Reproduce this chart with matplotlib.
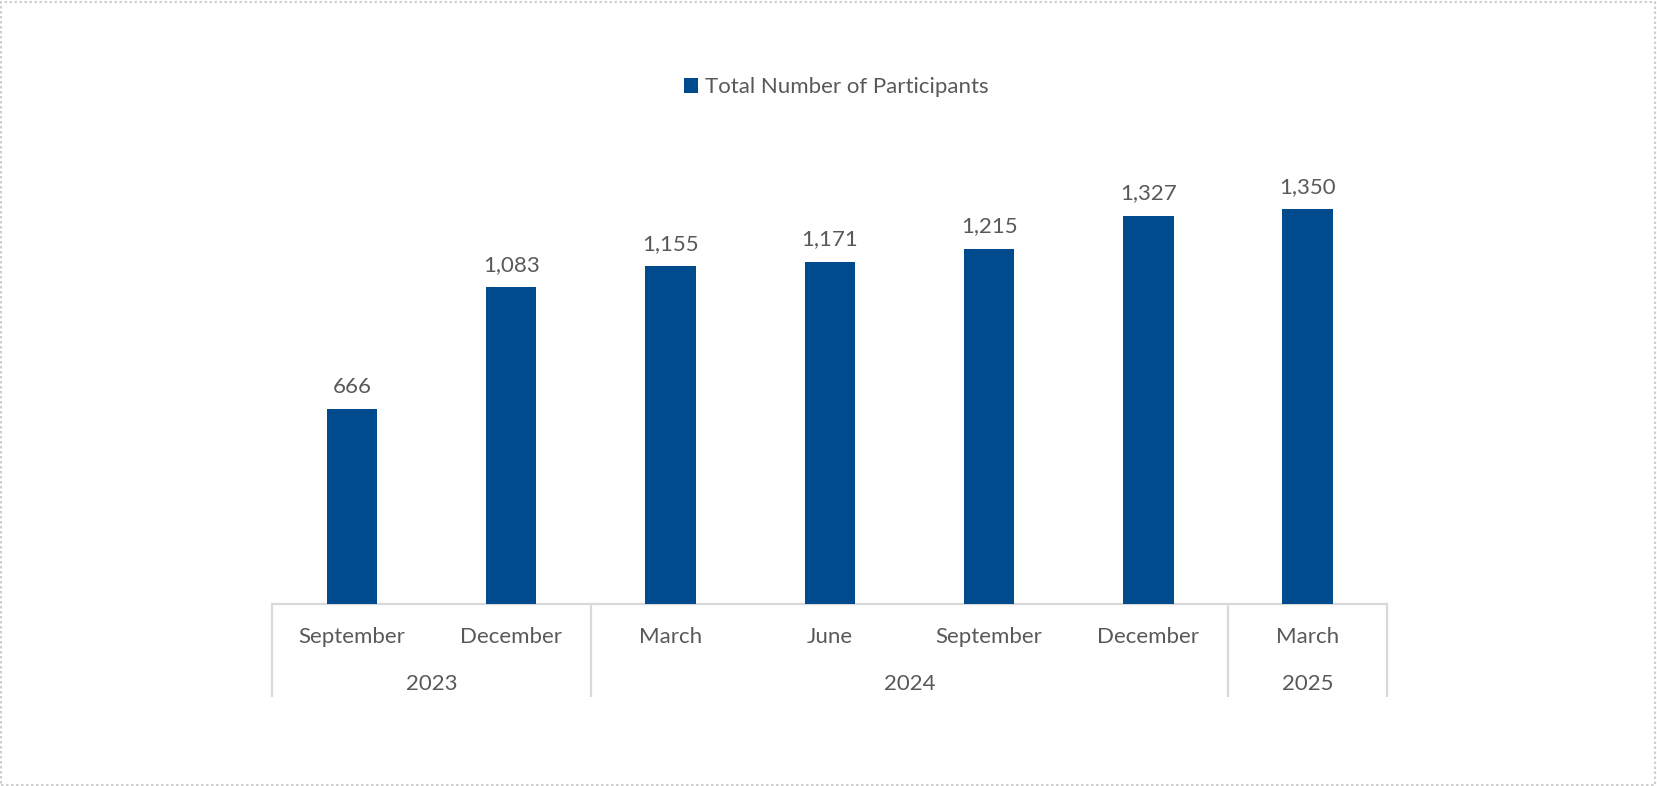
import matplotlib.pyplot as plt
from matplotlib.patches import Rectangle
import numpy as np

# participant counts per quarter
months = ["September", "December", "March", "June", "September", "December", "March"]
participants = [666, 1083, 1155, 1171, 1215, 1327, 1350]
years = ["2023", "2024", "2025"]
year_spans = [(0, 1), (2, 5), (6, 6)]  # first and last month index of each year

bar_col = "#004B8D"
txt_col = "#595959"
line_col = "#D9D9D9"

plt.rcParams['font.family'] = ['Lato', 'DejaVu Sans']

W, H = 1657, 786
fig = plt.figure(figsize=(W / 100, H / 100), dpi=100)

ax_left, ax_right = 272.3, 1387.3
ax_bottom, ax_top = 604.0, 136.3
ax = fig.add_axes([ax_left / W, 1 - ax_bottom / H,
                   (ax_right - ax_left) / W, (ax_bottom - ax_top) / H])
ax_h = ax_bottom - ax_top

x = np.arange(len(months))
bars = ax.bar(x, participants, width=0.316, color=bar_col,
              label="Total Number of Participants", zorder=3)
ax.set_xlim(-0.5, len(months) - 0.5)
ax.set_ylim(0, 1600)

fs = 16
for xi, v in zip(x, participants):
    ax.annotate(f"{v:,}", (xi, v), xytext=(0, 12), textcoords="offset points",
                ha="center", va="baseline", fontsize=fs, color=txt_col)

for s in ["top", "left", "right"]:
    ax.spines[s].set_visible(False)
ax.spines["bottom"].set_color(line_col)
ax.spines["bottom"].set_linewidth(1.6)
ax.set_yticks([])
ax.set_xticks([])

# two-level category axis drawn by hand
tr = ax.get_xaxis_transform()
def below(px):
    return -px / ax_h

for xi, m in zip(x, months):
    ax.text(xi, below(33), m, transform=tr, ha="center", va="center",
            fontsize=fs, color=txt_col, clip_on=False)

bounds = [-0.5]
for yr, (a, b) in zip(years, year_spans):
    ax.text((a + b) / 2, below(80), yr, transform=tr, ha="center", va="center",
            fontsize=fs, color=txt_col, clip_on=False)
    bounds.append(b + 0.5)
for bx in bounds:
    ax.plot([bx, bx], [0, below(93)], transform=tr, color=line_col, lw=1.6,
            clip_on=False, solid_capstyle="butt")

leg = fig.legend(loc="center", bbox_to_anchor=(0.5 + 7.5 / W, 1 - 87 / H), frameon=False,
                 fontsize=fs, handlelength=0.65, handleheight=0.65,
                 handletextpad=0.3, labelcolor=txt_col)

# dotted frame around the chart area
fig.patches.append(Rectangle((1 / W, 1 / H), 1 - 3 / W, 1 - 3 / H,
                             transform=fig.transFigure, fill=False,
                             edgecolor="#CFCFCF", lw=1.5, linestyle=(0, (1.2, 1.2))))

fig.savefig("out.png", dpi=100, facecolor="white")
